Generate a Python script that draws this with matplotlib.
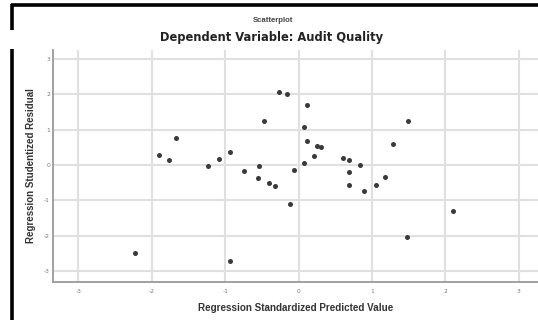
"""SPSS-style residual scatterplot: Audit Quality."""

import matplotlib
matplotlib.use("Agg")
import matplotlib.pyplot as plt
from matplotlib.lines import Line2D

W, H = 538, 320

# standardized predicted value vs studentized residual
pred = [-2.23, -1.90, -1.76, -1.67, -1.23, -1.08, -0.94, -0.94, -0.74, -0.55,
        -0.54, -0.47, -0.41, -0.32, -0.27, -0.16, -0.12, -0.07, 0.07, 0.07,
        0.12, 0.12, 0.21, 0.25, 0.30, 0.60, 0.69, 0.84, 0.69, 0.69,
        0.89, 1.05, 1.18, 1.28, 1.49, 1.47, 2.10]
resid = [-2.49, 0.29, 0.15, 0.77, -0.04, 0.17, 0.37, -2.73, -0.17, -0.36,
         -0.03, 1.26, -0.50, -0.59, 2.08, 2.01, -1.12, -0.14, 1.07, 0.05,
         1.71, 0.69, 0.26, 0.54, 0.50, 0.21, 0.14, -0.01, -0.21, -0.56,
         -0.75, -0.58, -0.34, 0.60, 1.26, -2.05, -1.31]
ticks = [-3, -2, -1, 0, 1, 2, 3]

GRID = "#e0e0e0"
SPINE = "#9a9a9a"
DOT = "#3a3a3a"

plt.rcParams["axes.unicode_minus"] = False

fig = plt.figure(figsize=(W / 100, H / 100), dpi=100)
fig.patch.set_facecolor("white")

ax = fig.add_axes([52.7 / W, 1 - 281.7 / H, 1 - 52.7 / W, (281.7 - 50) / H])
ax.scatter(pred, resid, s=13, color=DOT, linewidths=0, zorder=3)
ax.set_xlim(-3.35, 3.26)
ax.set_ylim(-3.31, 3.26)
ax.set_xticks(ticks)
ax.set_yticks(ticks)
ax.grid(True, color=GRID, linewidth=1.5)
ax.set_axisbelow(True)
ax.spines[["top", "right"]].set_visible(False)
ax.spines[["left", "bottom"]].set_color(SPINE)
ax.spines[["left", "bottom"]].set_linewidth(1.3)
ax.tick_params(length=0, labelsize=4.3, labelcolor="#777777", pad=5)
ax.tick_params(axis="y", pad=2)

ax.set_xlabel("Regression Standardized Predicted Value", family="Liberation Sans",
              fontweight="bold", fontsize=7.1, color="#333333", labelpad=7)
ax.set_ylabel("Regression Studentized Residual", family="Liberation Sans",
              fontweight="bold", fontsize=7.0, color="#333333", labelpad=6)

fig.text(273 / W, 1 - 20 / H, "Scatterplot", ha="center", va="center",
         fontsize=5.6, fontweight="bold", color="#444444", family="Liberation Sans")
fig.text(272 / W, 1 - 37 / H, "Dependent Variable: Audit Quality", ha="center",
         va="center", fontsize=8.3, fontweight="bold", color="#222222")

# black frame fragments around the figure
def px_line(xs, ys):
    fig.add_artist(Line2D([x / W for x in xs], [1 - y / H for y in ys],
                          color="black", linewidth=2.6, solid_capstyle="butt",
                          transform=fig.transFigure))

px_line([10.5, W], [5, 5])
px_line([12, 12], [4, 30])
px_line([12, 12], [49, H])

fig.savefig("out.png", dpi=100)
